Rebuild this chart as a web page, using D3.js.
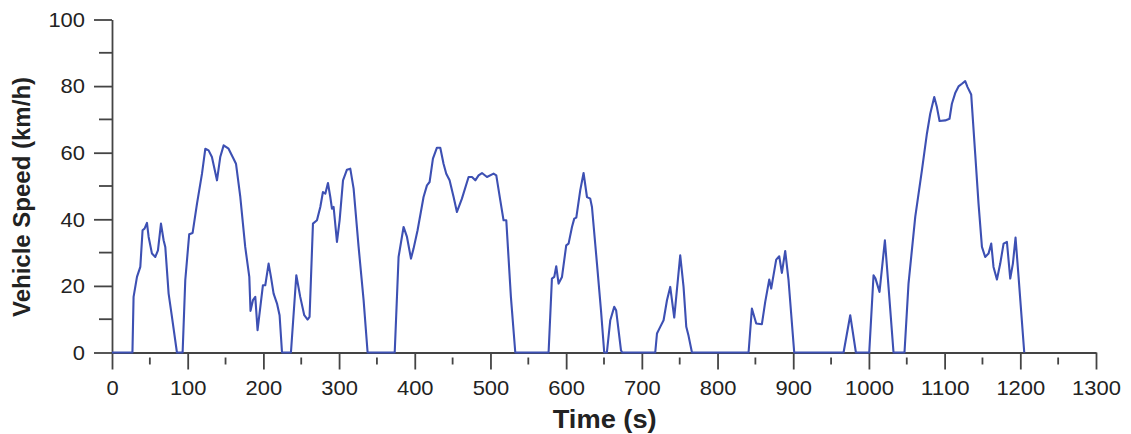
<!DOCTYPE html>
<html>
<head>
<meta charset="utf-8">
<script src="https://cdn.jsdelivr.net/npm/d3@7"></script>
<style>
  body { margin: 0; background: #fff; }
  text { font-family: Arial, "Liberation Sans", sans-serif; fill: #222; }
  .line { fill: none; stroke: #3d50b3; stroke-width: 2.1; stroke-linejoin: round; }
  .axis path, .axis line { stroke: #444; stroke-width: 1.8; }
</style>
</head>
<body>
<div id="chart"></div>
<script>
// drive cycle (time in s, speed in km/h)
var times = [0, 27, 28.5, 33, 37.4, 40.4, 43, 46.2, 48.4, 52.8, 57.2, 60.7, 64.7, 68.2, 70.4, 74.8, 79.2, 85.8,
  93.3, 96.8, 102, 106.5, 112.3, 118.9, 123.3, 127.6, 132, 138.7, 143, 147.5, 154, 160.6, 163.8, 169.5, 176, 181.4,
  183, 186.2, 189.3, 192.3, 199.4, 202.5, 206.9, 210, 213.5, 218, 221.4, 224.6,
  236.4, 243.5, 248.7, 254, 258.4, 261, 265.5, 270.8, 275.2, 278.7, 281.8, 285.3, 288.4, 290.6, 292.8, 297.2, 300.7,
  305.2, 310.4, 314.8, 319.2, 325.8, 332.4, 337.7,
  373.5, 378.6, 385.2, 389.7, 395, 398.4, 403.7, 411.6, 416.1, 419.6, 424, 429.3, 433.7, 438, 441.6, 446, 451.3,
  455.7, 462.3, 471.1, 475.6, 480, 484.3, 488.8, 495.4, 504.1, 507.7, 513, 517.3, 520.9, 527, 532.8,
  576.8, 581.2, 584.3, 586.9, 590, 594.5, 600.1, 603.2, 607.7, 610.7, 613.4, 618.6, 623, 627.5, 631.8, 634.1,
  640.7, 646, 650.3, 653.8, 658.3, 663.5, 666, 672.4, 674,
  717.7, 720, 724.3, 728.7, 733.2, 737.5, 742.8, 750.7, 755.1, 758.7, 761.7, 766.2,
  841, 845.4, 851.1, 858.6, 863, 868.3, 870.9, 877.5, 881.5, 885, 889.4, 893.8, 901.3,
  966.5, 975.3, 982.8, 1000.4, 1006.1, 1008.7, 1014, 1021.1, 1025.9, 1032.5,
  1047, 1052.3, 1061.2, 1070, 1076.6, 1081, 1086.3, 1089.8, 1093.3, 1100.8, 1106.5, 1109.6, 1114, 1118.4, 1122.9,
  1127.2, 1130.3, 1135.1, 1140.4, 1144.8, 1149.3, 1153.6, 1158, 1161.6, 1164.6, 1169.1, 1173.5, 1177.9, 1182.3,
  1186.7, 1190.2, 1193.7, 1197.7, 1205.2];
var speeds = [0, 0, 16.7, 22.7, 25.7, 36.7, 37.2, 38.9, 34.7, 29.7, 28.7, 30.7, 38.7, 33.7, 31.7, 17.7, 10.7, 0,
  0, 21.7, 35.5, 35.9, 44.7, 53.7, 61.2, 60.7, 58.7, 51.7, 58.7, 62.2, 61.2, 58.2, 56.7, 46.7, 31.7, 22.7,
  12.5, 15.7, 16.7, 6.7, 20.2, 20.2, 26.7, 22.7, 17.7, 14.7, 11.2, 0,
  0, 23.2, 16.7, 11.2, 9.9, 10.7, 38.7, 39.7, 43.7, 48.2, 47.7, 50.9, 46.7, 43.2, 43.7, 33.2, 39.7,
  51.7, 54.9, 55.2, 49.2, 31.7, 15.7, 0,
  0, 28.7, 37.7, 34.7, 28.2, 31.2, 36.7, 46.7, 50.2, 51.2, 58.2, 61.5, 61.5, 56.7, 53.7, 51.7, 46.7,
  42.2, 46.2, 52.7, 52.7, 51.7, 53.2, 53.9, 52.7, 53.7, 53.2, 45.7, 39.7, 39.7, 16.7, 0,
  0, 22.2, 22.7, 25.9, 20.7, 22.7, 32.2, 32.7, 37.7, 40.2, 40.5, 48.7, 53.9, 46.7, 46.2, 43.7,
  26.7, 12.7, 0, 0, 9.7, 13.7, 12.7, 0.7, 0,
  0, 5.7, 7.7, 9.7, 15.7, 19.7, 10.5, 29.2, 19.7, 7.7, 5, 0,
  0, 13.2, 8.7, 8.5, 15.2, 21.9, 19.2, 27.9, 28.9, 23.9, 30.5, 21.7, 0,
  0, 11.2, 0, 0, 23.2, 22.2, 18.2, 33.7, 19.7, 0,
  0, 20.7, 40.7, 54.7, 65.7, 71.7, 76.7, 73.7, 69.5, 69.7, 70.2, 74.7, 77.9, 79.9, 80.7,
  81.5, 79.7, 77.5, 59.7, 44.7, 31.7, 28.7, 29.7, 32.7, 25.7, 21.9, 26.7, 32.7, 33.2,
  22.2, 26.7, 34.5, 22.7, 0];

var xTicks = [0, 100, 200, 300, 400, 500, 600, 700, 800, 900, 1000, 1100, 1200, 1300];
var yTicks = [0, 20, 40, 60, 80, 100];

var data = times.map(function(t, i) { return {time: t, speed: speeds[i]}; });

var margin = {top: 19.5, right: 35, bottom: 81.5, left: 112},
    width = 1131 - margin.left - margin.right,
    height = 434 - margin.top - margin.bottom;

var x = d3.scaleLinear().domain([0, 1300]).range([0, width]);
var y = d3.scaleLinear().domain([0, 100]).range([height, 0]);

var svg = d3.select("#chart").append("svg")
    .attr("width", 1131)
    .attr("height", 434)
  .append("g")
    .attr("transform", "translate(" + margin.left + "," + margin.top + ")");

// the tick labels in the picture are a little wide, stretch them to match
function styleLabels(sel) {
    sel.selectAll("text")
        .style("font-size", "21px")
        .attr("textLength", function() { return this.textContent.length * 12.2; })
        .attr("lengthAdjust", "spacingAndGlyphs");
}

// x axis with major and minor ticks
var xAxis = svg.append("g")
    .attr("class", "axis")
    .attr("transform", "translate(0," + height + ")")
    .call(d3.axisBottom(x).tickValues(xTicks).tickFormat(d3.format("d"))
        .tickSize(17).tickSizeOuter(0).tickPadding(11));
styleLabels(xAxis);

xAxis.selectAll(".minor")
    .data(d3.range(50, 1300, 100))
  .enter().append("line")
    .attr("class", "minor")
    .attr("x1", function(d) { return x(d); })
    .attr("x2", function(d) { return x(d); })
    .attr("y1", 5)
    .attr("y2", 12);

// y axis
var yAxis = svg.append("g")
    .attr("class", "axis")
    .call(d3.axisLeft(y).tickValues(yTicks).tickFormat(d3.format("d"))
        .tickSize(18).tickSizeOuter(0).tickPadding(9));
styleLabels(yAxis);

yAxis.selectAll(".minor")
    .data(d3.range(10, 100, 20))
  .enter().append("line")
    .attr("class", "minor")
    .attr("x1", -13)
    .attr("x2", 0)
    .attr("y1", function(d) { return y(d); })
    .attr("y2", function(d) { return y(d); });

// speed trace
var valueline = d3.line()
    .x(function(d) { return x(d.time); })
    .y(function(d) { return y(d.speed); });

svg.append("path")
    .data([data])
    .attr("class", "line")
    .attr("d", valueline);

// axis titles
svg.append("text")
    .attr("x", 604.7 - margin.left)
    .attr("y", 428 - margin.top)
    .attr("text-anchor", "middle")
    .attr("textLength", 104)
    .attr("lengthAdjust", "spacingAndGlyphs")
    .style("font-size", "25px")
    .style("font-weight", "bold")
    .text("Time (s)");

svg.append("text")
    .attr("transform", "translate(" + (30 - margin.left) + "," + (197 - margin.top) + ") rotate(-90)")
    .attr("text-anchor", "middle")
    .style("font-size", "24px")
    .style("font-weight", "bold")
    .text("Vehicle Speed (km/h)");
</script>
</body>
</html>
